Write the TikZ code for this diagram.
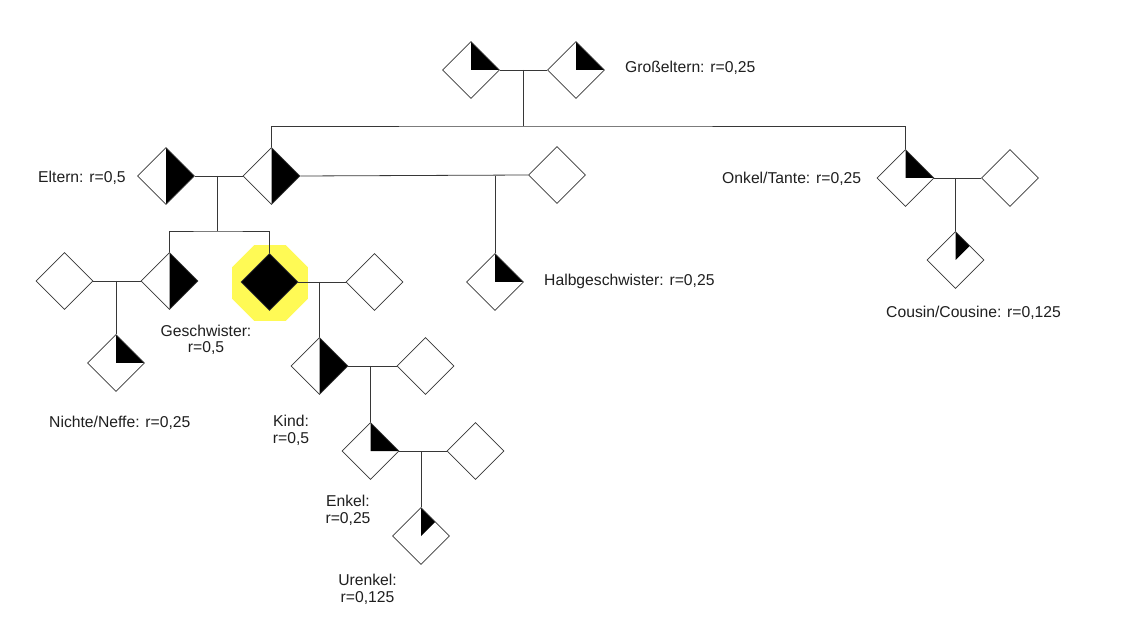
\documentclass[tikz,border=0pt]{standalone}
\usepackage{fontspec}
\setmainfont{Liberation Sans}
\usetikzlibrary{shapes.geometric,calc}
\definecolor{hl}{RGB}{255,250,85}
\definecolor{ln}{RGB}{55,55,55}
\begin{document}
\begin{tikzpicture}[x=1pt,y=-1pt,
  dia/.style={diamond,draw=ln,line width=0.8pt,minimum width=57pt,minimum height=57pt,inner sep=0pt,fill=white},
  quarter/.style={path picture={\fill[black] (path picture bounding box.north) -- (path picture bounding box.center) -- (path picture bounding box.east) -- cycle;}},
  halff/.style={path picture={\fill[black] (path picture bounding box.north) -- (path picture bounding box.south) -- (path picture bounding box.east) -- cycle;}},
  eighth/.style={path picture={\fill[black] (path picture bounding box.north) -- (path picture bounding box.center) -- ($(path picture bounding box.north)!.5!(path picture bounding box.east)$) -- cycle;}},
  full/.style={fill=black},
  conn/.style={draw=ln,line width=0.8pt},
  lbl/.style={font=\fontsize{15.7}{17}\selectfont,inner sep=0pt,text=black!88}
]
\useasboundingbox (0,0) rectangle (1136,644);
\fill[white] (0,0) rectangle (1136,644);

% highlight
\node[regular polygon,regular polygon sides=8,minimum size=82pt,inner sep=0pt,fill=hl] (glow) at (270,283) {};

% persons
\node[dia,quarter] (gp1) at (471,70) {};
\node[dia,quarter] (gp2) at (576,70) {};
\node[dia,halff] (p1) at (166,176) {};
\node[dia,halff] (p2) at (271.5,176) {};
\node[dia] (p2x) at (557,175) {};
\node[dia,quarter] (halfsib) at (495,282) {};
\node[dia,quarter] (uncle) at (905.5,178) {};
\node[dia] (unclep) at (1010,178) {};
\node[dia,eighth] (cousin) at (955.5,260) {};
\node[dia] (sibp) at (64.5,281) {};
\node[dia,halff] (sib) at (169.5,281) {};
\node[dia,quarter] (neffe) at (116,363) {};
\node[dia,full] (ego) at (269.5,282) {};
\node[dia] (egop) at (374.5,282) {};
\node[dia,halff] (kind) at (319.5,366) {};
\node[dia] (kindp) at (425.5,366) {};
\node[dia,quarter] (enkel) at (370.5,451) {};
\node[dia] (enkelp) at (475.5,451) {};
\node[dia,eighth] (urenkel) at (421,536) {};

% connectors
\draw[conn] (gp1.east) -- (gp2.west);
\coordinate (gpm) at ($(gp1.east)!.5!(gp2.west)$);
\coordinate (gpb) at ($(gpm)+(0,56)$);
\draw[conn] (gpm) -- (gpb);
\draw[conn] (p2.north) |- (gpb) -| (uncle.north);

\draw[conn] (p1.east) -- (p2.west);
\coordinate (pm) at (217,176);
\coordinate (pb) at (217,231);
\draw[conn] (pm) -- (pb);
\draw[conn] (sib.north) |- (pb) -| (ego.north);

\draw[conn] (p2.east) -- (p2x.west);
\coordinate (hm) at (halfsib.north |- p2.east);
\draw[conn] (hm) -- (halfsib.north);

\draw[conn] (uncle.east) -- (unclep.west);
\coordinate (um) at (cousin.north |- uncle.east);
\draw[conn] (um) -- (cousin.north);

\draw[conn] (sibp.east) -- (sib.west);
\coordinate (sm) at (neffe.north |- sib.west);
\draw[conn] (sm) -- (neffe.north);

\draw[conn] (ego.east) -- (egop.west);
\coordinate (em) at (kind.north |- ego.east);
\draw[conn] (em) -- (kind.north);

\draw[conn] (kind.east) -- (kindp.west);
\coordinate (km) at (enkel.north |- kind.east);
\draw[conn] (km) -- (enkel.north);

\draw[conn] (enkel.east) -- (enkelp.west);
\coordinate (nm) at (urenkel.north |- enkel.east);
\draw[conn] (nm) -- (urenkel.north);

% labels
\node[lbl,anchor=base west] (lgp) at (625,72.5) {Großeltern: r=0,25};
\node[lbl,anchor=base west] (lp) at (38,183) {Eltern: r=0,5};
\node[lbl,anchor=base west] (lu) at (722,184) {Onkel/Tante: r=0,25};
\node[lbl,anchor=base west] (lh) at (544,286) {Halbgeschwister: r=0,25};
\node[lbl,anchor=base west] (lc) at (886,318) {Cousin/Cousine: r=0,125};
\node[lbl,anchor=base west] (ln) at (49,427.5) {Nichte/Neffe: r=0,25};
\node[lbl,anchor=base,align=center] (ls) at (206,353) {Geschwister:\\r=0,5};
\node[lbl,anchor=base,align=center] (lk) at (291,443) {Kind:\\r=0,5};
\node[lbl,anchor=base,align=center] (le) at (348,523) {Enkel:\\r=0,25};
\node[lbl,anchor=base,align=center] (lue) at (367.5,602) {Urenkel:\\r=0,125};
\end{tikzpicture}
\end{document}
